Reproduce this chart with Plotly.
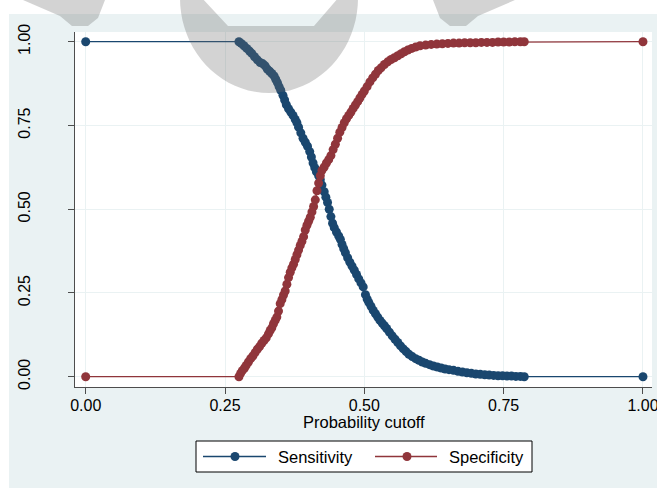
import math
import plotly.graph_objects as go

# Probability cutoffs and the resulting sensitivity / specificity
sens_cutoff = [0.000, 0.275, 0.279, 0.284, 0.289, 0.294, 0.298, 0.303, 0.308, 0.313,
               0.318, 0.322, 0.326, 0.330, 0.334, 0.338, 0.341, 0.344, 0.347, 0.350,
               0.354, 0.357, 0.360, 0.364, 0.368, 0.372, 0.376, 0.379, 0.382, 0.386,
               0.390, 0.394, 0.398, 0.402, 0.405, 0.408, 0.411, 0.414, 0.418, 0.421,
               0.424, 0.428, 0.431, 0.434, 0.437, 0.440, 0.443, 0.446, 0.450, 0.454,
               0.457, 0.460, 0.463, 0.466, 0.470, 0.474, 0.478, 0.482, 0.486, 0.490,
               0.494, 0.498, 0.502, 0.505, 0.508, 0.512, 0.516, 0.520, 0.524, 0.528,
               0.532, 0.536, 0.540, 0.545, 0.550, 0.555, 0.560, 0.565, 0.570, 0.575,
               0.580, 0.586, 0.592, 0.598, 0.604, 0.610, 0.617, 0.624, 0.631, 0.638,
               0.645, 0.652, 0.660, 0.668, 0.676, 0.684, 0.692, 0.700, 0.708, 0.716,
               0.724, 0.732, 0.740, 0.748, 0.756, 0.764, 0.772, 0.780, 0.787, 1.000]
sensitivity = [1.000, 1.000, 0.995, 0.988, 0.980, 0.972, 0.965, 0.955, 0.946, 0.938,
               0.934, 0.928, 0.918, 0.912, 0.905, 0.898, 0.888, 0.878, 0.866, 0.855,
               0.840, 0.826, 0.812, 0.800, 0.790, 0.780, 0.768, 0.758, 0.745, 0.728,
               0.712, 0.700, 0.688, 0.672, 0.656, 0.638, 0.624, 0.612, 0.600, 0.588,
               0.572, 0.552, 0.536, 0.520, 0.500, 0.478, 0.458, 0.445, 0.432, 0.420,
               0.410, 0.395, 0.382, 0.370, 0.355, 0.342, 0.330, 0.318, 0.305, 0.292,
               0.280, 0.268, 0.245, 0.232, 0.222, 0.210, 0.198, 0.188, 0.178, 0.168,
               0.160, 0.152, 0.144, 0.133, 0.122, 0.112, 0.102, 0.092, 0.083, 0.075,
               0.067, 0.060, 0.054, 0.049, 0.044, 0.040, 0.036, 0.032, 0.029, 0.026,
               0.023, 0.021, 0.019, 0.016, 0.014, 0.012, 0.010, 0.008, 0.007, 0.006,
               0.005, 0.004, 0.003, 0.003, 0.002, 0.002, 0.001, 0.001, 0.000, 0.000]

spec_cutoff = [0.000, 0.275, 0.278, 0.281, 0.285, 0.288, 0.292, 0.296, 0.300, 0.304,
               0.308, 0.312, 0.316, 0.320, 0.324, 0.328, 0.331, 0.334, 0.337, 0.340,
               0.343, 0.346, 0.349, 0.352, 0.355, 0.358, 0.361, 0.364, 0.367, 0.370,
               0.373, 0.376, 0.379, 0.382, 0.385, 0.388, 0.391, 0.394, 0.397, 0.400,
               0.403, 0.406, 0.409, 0.412, 0.415, 0.418, 0.421, 0.424, 0.428, 0.432,
               0.436, 0.440, 0.444, 0.448, 0.452, 0.456, 0.460, 0.464, 0.468, 0.472,
               0.476, 0.480, 0.484, 0.488, 0.492, 0.496, 0.500, 0.505, 0.510, 0.515,
               0.520, 0.525, 0.530, 0.536, 0.542, 0.548, 0.554, 0.560, 0.566, 0.572,
               0.578, 0.585, 0.592, 0.600, 0.610, 0.620, 0.630, 0.640, 0.650, 0.660,
               0.670, 0.680, 0.690, 0.700, 0.710, 0.720, 0.730, 0.740, 0.750, 0.760,
               0.770, 0.780, 0.787, 1.000]
specificity = [0.000, 0.000, 0.010, 0.018, 0.026, 0.034, 0.044, 0.054, 0.062, 0.072,
               0.082, 0.090, 0.100, 0.108, 0.116, 0.128, 0.138, 0.146, 0.158, 0.168,
               0.178, 0.196, 0.218, 0.230, 0.244, 0.256, 0.276, 0.296, 0.312, 0.325,
               0.336, 0.350, 0.364, 0.378, 0.392, 0.404, 0.418, 0.438, 0.452, 0.464,
               0.476, 0.492, 0.508, 0.528, 0.555, 0.578, 0.600, 0.616, 0.626, 0.638,
               0.648, 0.660, 0.678, 0.694, 0.712, 0.730, 0.744, 0.758, 0.770, 0.780,
               0.790, 0.801, 0.811, 0.821, 0.832, 0.843, 0.853, 0.866, 0.880, 0.892,
               0.903, 0.914, 0.922, 0.932, 0.940, 0.947, 0.952, 0.958, 0.964, 0.970,
               0.975, 0.980, 0.984, 0.988, 0.990, 0.992, 0.993, 0.994, 0.995, 0.996,
               0.996, 0.997, 0.997, 0.997, 0.998, 0.998, 0.998, 0.999, 0.999, 0.999,
               1.000, 1.000, 1.000, 1.000]

tick_vals = [0.0, 0.25, 0.5, 0.75, 1.0]
tick_text = ["0.00", "0.25", "0.50", "0.75", "1.00"]
series_names = ["Sensitivity", "Specificity"]

NAVY = "#1A476F"
MAROON = "#90353B"
BG = "#EAF2F3"
FONT = "Liberation Sans, Arial, sans-serif"

W, H = 657, 488
ML, MR, MT, MB = 75, 5, 32, 101
PW, PH = W - ML - MR, H - MT - MB


def px(x):
    return (x - ML) / PW


def py(y):
    return (H - MB - y) / PH


fig = go.Figure()
for xs, ys, color, name in [(sens_cutoff, sensitivity, NAVY, series_names[0]),
                            (spec_cutoff, specificity, MAROON, series_names[1])]:
    fig.add_trace(go.Scatter(
        x=xs, y=ys, mode="lines+markers", name=name, showlegend=False,
        line=dict(color=color, width=1.3),
        marker=dict(color=color, size=9, line=dict(width=0)),
    ))

shapes = []
# white page margins around the graph region
shapes.append(dict(type="rect", xref="paper", yref="paper", layer="below",
                   x0=px(0), x1=px(W), y0=py(14), y1=py(0),
                   fillcolor="white", line=dict(width=0)))
shapes.append(dict(type="rect", xref="paper", yref="paper", layer="below",
                   x0=px(0), x1=px(9), y0=py(H), y1=py(0),
                   fillcolor="white", line=dict(width=0)))


def poly_path(points):
    return "M" + " L".join(f"{px(a):.5f},{py(b):.5f}" for a, b in points) + " Z"


def ellipse_points(cx, cy, rx, ry, start, stop, n=40):
    out = []
    for i in range(n + 1):
        t = math.radians(start + (stop - start) * i / n)
        out.append((cx + rx * math.cos(t), cy + ry * math.sin(t)))
    return out


# faded emblem printed over the top of the page
wm = dict(type="path", xref="paper", yref="paper", layer="above",
          fillcolor="rgb(110,110,110)", opacity=0.3, line=dict(width=0))
outer = ellipse_points(269, -2, 89, 95, 0, 180)
hole = [(228, 26), (314, 26), (339, -3), (201, -3)]
shapes.append(dict(wm, path=poly_path(outer) + " " + poly_path(hole)))
shapes.append(dict(wm, path=poly_path([(23, 0), (105, 0), (98, 18), (88, 26),
                                       (72, 26), (60, 16)])))
shapes.append(dict(wm, path=poly_path([(515, 0), (433, 0), (440, 18), (450, 26),
                                       (466, 26), (478, 16)])))

# legend box
LY = 456.5
shapes.append(dict(type="rect", xref="paper", yref="paper",
                   x0=px(196), x1=px(532), y0=py(472), y1=py(441),
                   fillcolor="white", line=dict(color="black", width=1)))
for x0, x1, xm, color in [(203, 266, 235, NAVY), (375, 437, 407, MAROON)]:
    shapes.append(dict(type="line", xref="paper", yref="paper",
                       x0=px(x0), x1=px(x1), y0=py(LY), y1=py(LY),
                       line=dict(color=color, width=1.3)))
    shapes.append(dict(type="circle", xref="paper", yref="paper",
                       x0=px(xm - 4.5), x1=px(xm + 4.5),
                       y0=py(LY + 4.5), y1=py(LY - 4.5),
                       fillcolor=color, line=dict(width=0)))

annotations = [
    dict(text="Probability cutoff", xref="paper", yref="paper",
         x=px(363.5), y=py(422), xanchor="center", yanchor="middle",
         showarrow=False, font=dict(size=16.5, color="black", family=FONT)),
    dict(text=series_names[0], xref="paper", yref="paper",
         x=px(276), y=py(LY), xanchor="left", yanchor="middle",
         showarrow=False, font=dict(size=16.5, color="black", family=FONT)),
    dict(text=series_names[1], xref="paper", yref="paper",
         x=px(447), y=py(LY), xanchor="left", yanchor="middle",
         showarrow=False, font=dict(size=16.5, color="black", family=FONT)),
]

axis_common = dict(
    tickmode="array", tickvals=tick_vals, ticktext=tick_text,
    showgrid=True, gridcolor=BG, gridwidth=1, zeroline=False,
    showline=True, linecolor="#4d4d4d", linewidth=1,
    ticks="outside", ticklen=6, tickcolor="#4d4d4d", tickwidth=1,
    tickfont=dict(size=16, color="black", family=FONT),
    ticklabeloverflow="allow",
)

fig.update_layout(
    width=W, height=H,
    margin=dict(l=ML, r=MR, t=MT, b=MB, autoexpand=False),
    paper_bgcolor=BG, plot_bgcolor="white",
    xaxis=dict(axis_common, range=[-0.0192, 1.0162], ticklabelstandoff=-2),
    yaxis=dict(axis_common, range=[-0.0307, 1.029], tickangle=-90,
               ticklabelstandoff=32),
    shapes=shapes, annotations=annotations, showlegend=False,
)

fig.write_html("out.html")
